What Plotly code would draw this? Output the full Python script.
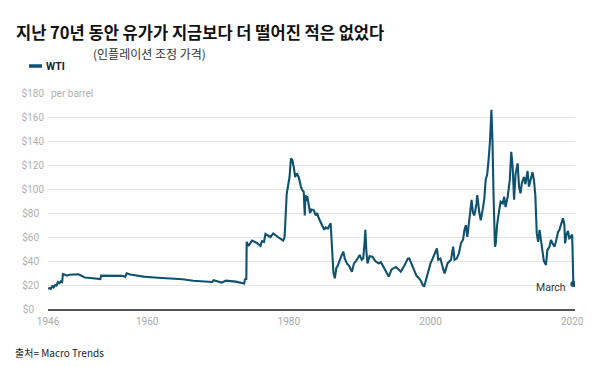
import plotly.graph_objects as go

# ---- data (inflation-adjusted WTI, $ per barrel) ----
years = [
    1946.0, 1946.2, 1946.4, 1946.6, 1946.8, 1947.0, 1947.2, 1947.4, 1947.6, 1947.8,
    1948.0, 1948.1, 1948.4, 1948.7, 1949.0, 1949.5, 1950.3, 1950.8, 1951.2, 1952.0,
    1953.0, 1953.4, 1953.5, 1955.0, 1956.5, 1956.9, 1957.1, 1957.6, 1958.5, 1959.5,
    1961.0, 1963.0, 1965.0, 1966.5, 1968.0, 1969.2, 1969.4, 1970.5, 1971.1, 1972.5,
    1973.7, 1973.8, 1974.0, 1974.05, 1974.3, 1974.8, 1975.5, 1976.0, 1976.2, 1976.5,
    1976.7, 1977.0, 1977.4, 1977.8, 1978.2, 1978.6, 1979.2, 1979.4, 1979.7, 1979.9,
    1980.1, 1980.3, 1980.5, 1980.7, 1980.9, 1981.1, 1981.4, 1981.7, 1981.9, 1982.1,
    1982.25, 1982.35, 1982.5, 1982.6, 1982.8, 1983.0, 1983.2, 1983.5, 1983.8, 1984.0,
    1984.2, 1984.5, 1984.7, 1985.0, 1985.2, 1985.5, 1985.9, 1986.1, 1986.3, 1986.5,
    1986.7, 1986.9, 1987.1, 1987.4, 1987.7, 1987.9, 1988.2, 1988.5, 1988.9, 1989.2,
    1989.5, 1989.8, 1990.0, 1990.3, 1990.5, 1990.7, 1990.8, 1990.95, 1991.1, 1991.4,
    1991.8, 1992.2, 1992.7, 1993.0, 1993.4, 1993.8, 1994.1, 1994.5, 1994.8, 1995.1,
    1995.5, 1995.8, 1996.3, 1996.8, 1997.0, 1997.3, 1997.7, 1998.0, 1998.3, 1998.6,
    1998.9, 1999.1, 1999.4, 1999.7, 2000.0, 2000.3, 2000.6, 2000.9, 2001.1, 2001.4,
    2001.8, 2002.0, 2002.4, 2002.7, 2002.9, 2003.2, 2003.4, 2003.7, 2004.0, 2004.3,
    2004.6, 2004.8, 2005.0, 2005.2, 2005.5, 2005.8, 2006.0, 2006.2, 2006.5, 2006.6,
    2006.9, 2007.1, 2007.4, 2007.6, 2007.8, 2008.0, 2008.2, 2008.4, 2008.6, 2008.75,
    2008.9, 2009.1, 2009.2, 2009.4, 2009.7, 2009.9, 2010.2, 2010.4, 2010.6, 2010.9,
    2011.2, 2011.4, 2011.6, 2011.8, 2012.0, 2012.3, 2012.5, 2012.7, 2012.9, 2013.2,
    2013.4, 2013.7, 2013.9, 2014.2, 2014.4, 2014.6, 2014.8, 2015.0, 2015.2, 2015.4,
    2015.6, 2015.8, 2016.0, 2016.3, 2016.5, 2016.8, 2017.0, 2017.2, 2017.5, 2017.7,
    2018.0, 2018.2, 2018.5, 2018.7, 2018.9, 2019.0, 2019.2, 2019.4, 2019.6, 2019.8,
    2020.0, 2020.17,
]
wti = [
    16.7, 17.5, 16.8, 19.0, 18.0, 20.0, 19.5, 22.5, 21.5, 23.0,
    22.5, 29.0, 28.5, 27.8, 28.5, 28.5, 29.0, 27.5, 26.2, 25.8,
    25.0, 25.0, 27.8, 27.8, 27.6, 26.8, 29.7, 28.8, 28.0, 27.0,
    26.3, 25.5, 24.8, 23.5, 23.0, 22.5, 24.0, 22.0, 23.6, 22.8,
    21.2, 24.7, 25.0, 56.0, 52.5, 57.0, 55.0, 52.5, 56.5, 56.0,
    62.5, 61.5, 60.0, 63.0, 61.5, 59.4, 57.0, 60.0, 96.0, 104.0,
    110.0, 125.6, 124.0, 118.0, 110.0, 113.0, 110.0, 102.0, 99.0, 97.8,
    78.0, 95.0, 90.0, 94.0, 88.0, 80.0, 83.0, 82.5, 78.0, 80.0,
    76.0, 72.0, 70.0, 66.0, 68.0, 67.0, 71.4, 50.0, 30.0, 25.6,
    34.0, 36.0, 40.0, 44.0, 47.8, 42.0, 38.0, 36.0, 31.0, 38.0,
    40.0, 43.0, 45.0, 41.0, 42.0, 56.0, 66.0, 48.0, 38.0, 44.0,
    43.6, 40.0, 38.0, 39.0, 35.0, 30.0, 27.0, 33.0, 34.0, 35.0,
    33.0, 31.0, 36.0, 42.0, 42.2, 38.0, 32.5, 28.0, 26.0, 24.0,
    20.0, 18.6, 25.0, 32.0, 38.0, 42.0, 46.0, 50.6, 41.0, 42.0,
    33.0, 29.7, 38.0, 40.0, 41.0, 52.0, 41.0, 42.0, 46.0, 54.7,
    58.0, 66.0, 70.0, 60.0, 74.0, 91.0, 80.0, 78.0, 88.0, 95.0,
    80.0, 74.0, 84.0, 92.0, 108.0, 112.0, 124.0, 140.0, 166.0, 140.0,
    95.0, 52.0, 54.0, 70.0, 82.5, 89.4, 88.0, 93.6, 85.0, 93.6,
    108.0, 131.0, 118.0, 91.0, 112.0, 121.4, 102.0, 96.4, 105.0, 110.0,
    104.0, 115.0, 102.0, 110.0, 114.0, 107.5, 95.0, 63.0, 56.0, 66.0,
    58.0, 52.0, 40.0, 36.7, 49.0, 52.0, 57.5, 55.0, 52.0, 56.0,
    64.0, 66.0, 72.0, 75.6, 70.0, 54.7, 62.0, 65.0, 59.0, 60.0,
    62.0, 20.8,
]

x_tick_vals = [1946, 1960, 1980, 2000, 2020]
x_tick_text = ["1946", "1960", "1980", "2000", "2020"]
y_tick_vals = [0, 20, 40, 60, 80, 100, 120, 140, 160, 180]
y_tick_text = ["$0", "$20", "$40", "$60", "$80", "$100", "$120", "$140", "$160", "$180"]

title_text = "지난 70년 동안 유가가 지금보다 더 떨어진 적은 없었다"
subtitle_text = "(인플레이션 조정 가격)"
series_name = "WTI"
source_text = "출처= Macro Trends"
end_label = "March"

LINE = "#0f5270"
KR = "Noto Sans CJK KR, Noto Sans, sans-serif"
COND = "Liberation Sans Narrow, Roboto, Arial, sans-serif"

# plot area in pixels
L, R, T, B = 48, 25, 93, 58
PW, PH = 600 - L - R, 367 - T - B

def px(xp):
    return (xp - L) / PW

def py(yp):
    return (367 - B - yp) / PH

# left-align y tick labels by padding shorter labels with no-break spaces
longest = max(len(t) for t in y_tick_text)
y_tick_shown = [t + "\u00a0" * (2 * (longest - len(t))) for t in y_tick_text]

fig = go.Figure()
fig.add_trace(go.Scatter(
    x=years, y=wti, mode="lines", name=series_name,
    line=dict(color=LINE, width=2.1), showlegend=False,
))
fig.add_trace(go.Scatter(
    x=[years[-1]], y=[wti[-1]], mode="markers",
    marker=dict(color=LINE, size=6), showlegend=False,
))

fig.update_layout(
    width=600, height=367,
    margin=dict(l=L, r=R, t=T, b=B, autoexpand=False),
    plot_bgcolor="white", paper_bgcolor="white",
    showlegend=False,
    xaxis=dict(
        range=[1946, 2020.4], tickvals=x_tick_vals, ticktext=x_tick_text,
        showgrid=False, zeroline=False, showline=True, automargin=False,
        linecolor="#555555", linewidth=1.5,
        tickfont=dict(family=COND, size=10, color="#aaaaaa"),
        ticks="", ticklabelstandoff=2,
    ),
    yaxis=dict(
        range=[0, 180], tickvals=y_tick_vals, ticktext=y_tick_shown,
        showgrid=True, gridcolor="#e6e6e6", gridwidth=1, zeroline=False,
        automargin=False,
        tickfont=dict(family=COND, size=10, color="#b0b0b0"),
        ticks="", ticklabelstandoff=3,
    ),
    font=dict(family=KR),
)

fig.add_annotation(text=f"<b>{title_text}</b>", x=px(14), y=py(32), xref="paper", yref="paper",
                   xanchor="left", yanchor="middle", showarrow=False,
                   font=dict(family=KR, size=16.5, color="#111111"))
fig.add_annotation(text=subtitle_text, x=px(91), y=py(53), xref="paper", yref="paper",
                   xanchor="left", yanchor="middle", showarrow=False,
                   font=dict(family=KR, size=12, color="#333333"))
fig.add_annotation(text="per barrel", x=0, y=180, xref="paper", yref="y",
                   xanchor="left", yanchor="middle", showarrow=False,
                   bgcolor="white", borderpad=2,
                   font=dict(family=COND, size=10, color="#b0b0b0"))
fig.add_annotation(text=f"<b>{series_name}</b>", x=px(44), y=py(66), xref="paper", yref="paper",
                   xanchor="left", yanchor="middle", showarrow=False,
                   font=dict(family=COND, size=10.5, color="#222222"))
fig.add_annotation(text=source_text, x=px(13), y=py(352), xref="paper", yref="paper",
                   xanchor="left", yanchor="middle", showarrow=False,
                   font=dict(family=KR, size=10, color="#222222"))
fig.add_annotation(text=end_label, x=years[-1], y=wti[-1], xref="x", yref="y",
                   xanchor="right", yanchor="middle", xshift=-5, yshift=-3, showarrow=False,
                   font=dict(family=COND, size=10.5, color="#333333"))

fig.add_shape(type="line", xref="paper", yref="paper",
              x0=px(29), x1=px(42), y0=py(66), y1=py(66),
              line=dict(color=LINE, width=3.5))

fig.write_html("out.html", config={"displayModeBar": False},
               post_script="document.body.style.margin='0';document.body.style.overflow='hidden';")
